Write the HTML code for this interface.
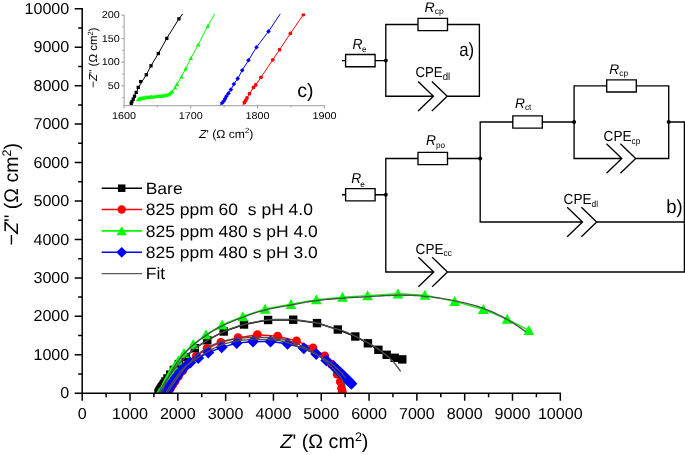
<!DOCTYPE html>
<html lang="en"><head><meta charset="utf-8"><title>Nyquist plot</title>
<style>html,body{margin:0;padding:0;background:#fff}body{width:685px;height:455px;overflow:hidden}svg{display:block}</style>
</head><body>
<svg width="685" height="455" viewBox="0 0 685 455" font-family="'Liberation Sans', Arial, sans-serif" fill="#000" text-rendering="geometricPrecision">
<rect width="685" height="455" fill="#fff"/>
<defs><clipPath id="cm"><rect x="82.2" y="8.8" width="486.1" height="385"/></clipPath>
<clipPath id="ci"><rect x="124.1" y="13.61" width="201.29" height="92.09"/></clipPath></defs>
<g clip-path="url(#cm)">
<g fill="#000" stroke="none">
<polyline points="158.62,393.2 158.88,392.7 159.16,392.17 159.44,391.64 159.72,391.11 160,390.58 160.31,390.02 160.71,389.3 161.22,388.38 161.89,387.22 162.77,385.73 163.92,383.84 165.44,381.44 167.46,378.42 170.16,374.62 173.82,369.89 178.81,364.07 185.67,357.03 194.8,348.3 207.3,340.3 223.7,331.5 244,324.5 268.1,320 293.2,319.7 317,323.1 337.8,329.5 355.3,336.5 367.9,343.3 378.4,349.8 386.7,354.8 394.7,357.8 402.3,359.4" fill="none" stroke="#000" stroke-width="1.4"/>
<rect x="154.42" y="389" width="8.4" height="8.4"/><rect x="154.68" y="388.5" width="8.4" height="8.4"/><rect x="154.96" y="387.97" width="8.4" height="8.4"/><rect x="155.24" y="387.44" width="8.4" height="8.4"/><rect x="155.52" y="386.91" width="8.4" height="8.4"/><rect x="155.8" y="386.38" width="8.4" height="8.4"/><rect x="156.11" y="385.82" width="8.4" height="8.4"/><rect x="156.51" y="385.1" width="8.4" height="8.4"/><rect x="157.02" y="384.18" width="8.4" height="8.4"/><rect x="157.69" y="383.02" width="8.4" height="8.4"/><rect x="158.57" y="381.53" width="8.4" height="8.4"/><rect x="159.72" y="379.64" width="8.4" height="8.4"/><rect x="161.24" y="377.24" width="8.4" height="8.4"/><rect x="163.26" y="374.22" width="8.4" height="8.4"/><rect x="165.96" y="370.42" width="8.4" height="8.4"/><rect x="169.62" y="365.69" width="8.4" height="8.4"/><rect x="174.61" y="359.87" width="8.4" height="8.4"/><rect x="181.47" y="352.83" width="8.4" height="8.4"/><rect x="190.6" y="344.1" width="8.4" height="8.4"/><rect x="203.1" y="336.1" width="8.4" height="8.4"/><rect x="219.5" y="327.3" width="8.4" height="8.4"/><rect x="239.8" y="320.3" width="8.4" height="8.4"/><rect x="263.9" y="315.8" width="8.4" height="8.4"/><rect x="289" y="315.5" width="8.4" height="8.4"/><rect x="312.8" y="318.9" width="8.4" height="8.4"/><rect x="333.6" y="325.3" width="8.4" height="8.4"/><rect x="351.1" y="332.3" width="8.4" height="8.4"/><rect x="363.7" y="339.1" width="8.4" height="8.4"/><rect x="374.2" y="345.6" width="8.4" height="8.4"/><rect x="382.5" y="350.6" width="8.4" height="8.4"/><rect x="390.5" y="353.6" width="8.4" height="8.4"/><rect x="398.1" y="355.2" width="8.4" height="8.4"/>
</g>
<g fill="#f00" stroke="none">
<polyline points="167.2,393.2 167.89,392.14 169.15,390.21 170.74,387.8 172.71,384.79 175.21,381.04 178.42,376.41 182.64,370.78 188.27,364.02 196.2,356.4 207.1,348.3 220.9,342.3 238.1,337.7 257.4,334.7 277.6,336.2 296.5,340.9 313,347.9 324.7,355.8 331.5,364.1 337.2,374.2 340.3,381.7 341.5,388 342.3,391.7" fill="none" stroke="#f00" stroke-width="1.4"/>
<circle cx="167.2" cy="393.2" r="4.4"/><circle cx="167.89" cy="392.14" r="4.4"/><circle cx="169.15" cy="390.21" r="4.4"/><circle cx="170.74" cy="387.8" r="4.4"/><circle cx="172.71" cy="384.79" r="4.4"/><circle cx="175.21" cy="381.04" r="4.4"/><circle cx="178.42" cy="376.41" r="4.4"/><circle cx="182.64" cy="370.78" r="4.4"/><circle cx="188.27" cy="364.02" r="4.4"/><circle cx="196.2" cy="356.4" r="4.4"/><circle cx="207.1" cy="348.3" r="4.4"/><circle cx="220.9" cy="342.3" r="4.4"/><circle cx="238.1" cy="337.7" r="4.4"/><circle cx="257.4" cy="334.7" r="4.4"/><circle cx="277.6" cy="336.2" r="4.4"/><circle cx="296.5" cy="340.9" r="4.4"/><circle cx="313" cy="347.9" r="4.4"/><circle cx="324.7" cy="355.8" r="4.4"/><circle cx="331.5" cy="364.1" r="4.4"/><circle cx="337.2" cy="374.2" r="4.4"/><circle cx="340.3" cy="381.7" r="4.4"/><circle cx="341.5" cy="388" r="4.4"/><circle cx="342.3" cy="391.7" r="4.4"/>
</g>
<g fill="#0f0" stroke="none">
<polyline points="159.4,392.8 159.71,392.71 160.29,392.55 160.87,392.39 161.44,392.2 161.98,391.95 162.35,391.49 162.55,390.93 162.76,390.36 162.94,389.79 163.14,389.23 163.35,388.66 163.56,388.1 163.77,387.54 163.99,386.98 164.27,386.26 164.63,385.35 165.11,384.18 165.75,382.69 166.6,380.79 167.74,378.38 169.28,375.33 171.38,371.49 174.3,366.69 178.3,360.7 184,353.3 193.3,344.4 206,334.6 222.2,324.9 242.8,316.5 265.1,309 291,304.2 316.4,299.6 342.5,297.1 367.6,295.6 398,293.8 424.9,295.1 454.7,301.4 483.3,309.4 507.2,319 528.8,330.3" fill="none" stroke="#0f0" stroke-width="1.4"/>
<path d="M159.4 387.5L164.8 397.5L154 397.5Z"/><path d="M159.71 387.41L165.11 397.41L154.31 397.41Z"/><path d="M160.29 387.25L165.69 397.25L154.89 397.25Z"/><path d="M160.87 387.09L166.27 397.09L155.47 397.09Z"/><path d="M161.44 386.9L166.84 396.9L156.04 396.9Z"/><path d="M161.98 386.65L167.38 396.65L156.58 396.65Z"/><path d="M162.35 386.19L167.75 396.19L156.95 396.19Z"/><path d="M162.55 385.63L167.95 395.63L157.15 395.63Z"/><path d="M162.76 385.06L168.16 395.06L157.36 395.06Z"/><path d="M162.94 384.49L168.34 394.49L157.54 394.49Z"/><path d="M163.14 383.93L168.54 393.93L157.74 393.93Z"/><path d="M163.35 383.36L168.75 393.36L157.95 393.36Z"/><path d="M163.56 382.8L168.96 392.8L158.16 392.8Z"/><path d="M163.77 382.24L169.17 392.24L158.37 392.24Z"/><path d="M163.99 381.68L169.39 391.68L158.59 391.68Z"/><path d="M164.27 380.96L169.67 390.96L158.87 390.96Z"/><path d="M164.63 380.05L170.03 390.05L159.23 390.05Z"/><path d="M165.11 378.88L170.51 388.88L159.71 388.88Z"/><path d="M165.75 377.39L171.15 387.39L160.35 387.39Z"/><path d="M166.6 375.49L172 385.49L161.2 385.49Z"/><path d="M167.74 373.08L173.14 383.08L162.34 383.08Z"/><path d="M169.28 370.03L174.68 380.03L163.88 380.03Z"/><path d="M171.38 366.19L176.78 376.19L165.98 376.19Z"/><path d="M174.3 361.39L179.7 371.39L168.9 371.39Z"/><path d="M178.3 355.4L183.7 365.4L172.9 365.4Z"/><path d="M184 348L189.4 358L178.6 358Z"/><path d="M193.3 339.1L198.7 349.1L187.9 349.1Z"/><path d="M206 329.3L211.4 339.3L200.6 339.3Z"/><path d="M222.2 319.6L227.6 329.6L216.8 329.6Z"/><path d="M242.8 311.2L248.2 321.2L237.4 321.2Z"/><path d="M265.1 303.7L270.5 313.7L259.7 313.7Z"/><path d="M291 298.9L296.4 308.9L285.6 308.9Z"/><path d="M316.4 294.3L321.8 304.3L311 304.3Z"/><path d="M342.5 291.8L347.9 301.8L337.1 301.8Z"/><path d="M367.6 290.3L373 300.3L362.2 300.3Z"/><path d="M398 288.5L403.4 298.5L392.6 298.5Z"/><path d="M424.9 289.8L430.3 299.8L419.5 299.8Z"/><path d="M454.7 296.1L460.1 306.1L449.3 306.1Z"/><path d="M483.3 304.1L488.7 314.1L477.9 314.1Z"/><path d="M507.2 313.7L512.6 323.7L501.8 323.7Z"/><path d="M528.8 325L534.2 335L523.4 335Z"/>
</g>
<g fill="#00f" stroke="none">
<polyline points="165.5,393.2 165.8,392.74 166.13,392.24 166.46,391.74 166.78,391.24 167.11,390.74 167.44,390.23 167.77,389.73 168.1,389.23 168.43,388.73 168.77,388.2 169.21,387.54 169.75,386.71 170.43,385.68 171.27,384.39 172.34,382.78 173.69,380.78 175.4,378.3 177.61,375.25 180.54,371.56 184.54,367.25 190.23,362.58 198.2,358 208.3,352.6 221.7,347.3 236.7,343.1 253,341.5 270.5,341.5 287.5,343.8 303.8,348.2 316.2,354 326.4,360.6 333.6,366.3 337.1,369.7 340.1,372.6 342.7,375.1 344.9,377.3 346.9,379.3 348.6,381 350.1,382.5 351.4,383.8" fill="none" stroke="#00f" stroke-width="1.4"/>
<path d="M165.5 387.2L171.5 393.2L165.5 399.2L159.5 393.2Z"/><path d="M165.8 386.74L171.8 392.74L165.8 398.74L159.8 392.74Z"/><path d="M166.13 386.24L172.13 392.24L166.13 398.24L160.13 392.24Z"/><path d="M166.46 385.74L172.46 391.74L166.46 397.74L160.46 391.74Z"/><path d="M166.78 385.24L172.78 391.24L166.78 397.24L160.78 391.24Z"/><path d="M167.11 384.74L173.11 390.74L167.11 396.74L161.11 390.74Z"/><path d="M167.44 384.23L173.44 390.23L167.44 396.23L161.44 390.23Z"/><path d="M167.77 383.73L173.77 389.73L167.77 395.73L161.77 389.73Z"/><path d="M168.1 383.23L174.1 389.23L168.1 395.23L162.1 389.23Z"/><path d="M168.43 382.73L174.43 388.73L168.43 394.73L162.43 388.73Z"/><path d="M168.77 382.2L174.77 388.2L168.77 394.2L162.77 388.2Z"/><path d="M169.21 381.54L175.21 387.54L169.21 393.54L163.21 387.54Z"/><path d="M169.75 380.71L175.75 386.71L169.75 392.71L163.75 386.71Z"/><path d="M170.43 379.68L176.43 385.68L170.43 391.68L164.43 385.68Z"/><path d="M171.27 378.39L177.27 384.39L171.27 390.39L165.27 384.39Z"/><path d="M172.34 376.78L178.34 382.78L172.34 388.78L166.34 382.78Z"/><path d="M173.69 374.78L179.69 380.78L173.69 386.78L167.69 380.78Z"/><path d="M175.4 372.3L181.4 378.3L175.4 384.3L169.4 378.3Z"/><path d="M177.61 369.25L183.61 375.25L177.61 381.25L171.61 375.25Z"/><path d="M180.54 365.56L186.54 371.56L180.54 377.56L174.54 371.56Z"/><path d="M184.54 361.25L190.54 367.25L184.54 373.25L178.54 367.25Z"/><path d="M190.23 356.58L196.23 362.58L190.23 368.58L184.23 362.58Z"/><path d="M198.2 352L204.2 358L198.2 364L192.2 358Z"/><path d="M208.3 346.6L214.3 352.6L208.3 358.6L202.3 352.6Z"/><path d="M221.7 341.3L227.7 347.3L221.7 353.3L215.7 347.3Z"/><path d="M236.7 337.1L242.7 343.1L236.7 349.1L230.7 343.1Z"/><path d="M253 335.5L259 341.5L253 347.5L247 341.5Z"/><path d="M270.5 335.5L276.5 341.5L270.5 347.5L264.5 341.5Z"/><path d="M287.5 337.8L293.5 343.8L287.5 349.8L281.5 343.8Z"/><path d="M303.8 342.2L309.8 348.2L303.8 354.2L297.8 348.2Z"/><path d="M316.2 348L322.2 354L316.2 360L310.2 354Z"/><path d="M326.4 354.6L332.4 360.6L326.4 366.6L320.4 360.6Z"/><path d="M333.6 360.3L339.6 366.3L333.6 372.3L327.6 366.3Z"/><path d="M337.1 363.7L343.1 369.7L337.1 375.7L331.1 369.7Z"/><path d="M340.1 366.6L346.1 372.6L340.1 378.6L334.1 372.6Z"/><path d="M342.7 369.1L348.7 375.1L342.7 381.1L336.7 375.1Z"/><path d="M344.9 371.3L350.9 377.3L344.9 383.3L338.9 377.3Z"/><path d="M346.9 373.3L352.9 379.3L346.9 385.3L340.9 379.3Z"/><path d="M348.6 375L354.6 381L348.6 387L342.6 381Z"/><path d="M350.1 376.5L356.1 382.5L350.1 388.5L344.1 382.5Z"/><path d="M351.4 377.8L357.4 383.8L351.4 389.8L345.4 383.8Z"/>
</g>
<polyline points="158.62,393.2 158.82,392.82 159.09,392.33 159.4,391.76 159.74,391.11 160.12,390.41 160.52,389.68 160.92,388.94 161.33,388.21 161.73,387.5 162.1,386.85 162.47,386.22 162.84,385.6 163.22,384.98 163.59,384.36 163.97,383.75 164.36,383.13 164.74,382.52 165.14,381.91 165.53,381.3 165.93,380.69 166.33,380.09 166.73,379.49 167.13,378.89 167.54,378.29 167.96,377.69 168.37,377.1 168.79,376.51 169.21,375.92 169.64,375.33 170.07,374.75 170.5,374.17 170.93,373.59 171.37,373.01 171.81,372.43 172.26,371.86 172.7,371.29 173.15,370.72 173.61,370.16 174.06,369.59 174.52,369.03 174.98,368.47 175.45,367.92 175.91,367.36 176.39,366.81 176.86,366.26 177.34,365.72 177.82,365.17 178.3,364.63 178.78,364.1 179.27,363.56 179.76,363.03 180.25,362.5 180.75,361.97 181.25,361.44 181.75,360.92 182.26,360.4 182.77,359.88 183.28,359.37 183.79,358.86 184.3,358.35 184.82,357.84 185.35,357.34 185.88,356.85 186.41,356.36 186.95,355.87 187.48,355.38 188.02,354.89 188.55,354.4 189.08,353.91 189.61,353.41 190.1,352.93 190.54,352.46 190.94,352.01 191.34,351.55 191.75,351.09 192.2,350.62 192.71,350.12 193.3,349.59 193.99,349.02 194.8,348.4 195.74,347.73 196.77,347.02 197.89,346.27 199.09,345.49 200.35,344.68 201.67,343.86 203.03,343.02 204.43,342.18 205.86,341.34 207.3,340.5 208.76,339.66 210.27,338.79 211.81,337.9 213.39,337.01 215.01,336.11 216.67,335.22 218.37,334.33 220.11,333.46 221.88,332.62 223.7,331.8 225.55,331 227.45,330.21 229.38,329.42 231.36,328.64 233.37,327.89 235.42,327.15 237.51,326.44 239.63,325.76 241.8,325.11 244,324.5 246.25,323.92 248.56,323.35 250.92,322.81 253.32,322.3 255.75,321.81 258.21,321.36 260.68,320.95 263.16,320.59 265.63,320.27 268.1,320 270.58,319.78 273.08,319.61 275.6,319.49 278.13,319.4 280.67,319.36 283.21,319.36 285.73,319.39 288.25,319.46 290.74,319.57 293.2,319.7 295.68,319.88 298.22,320.12 300.78,320.4 303.33,320.72 305.86,321.07 308.32,321.45 310.69,321.84 312.95,322.23 315.06,322.62 317,323 318.73,323.38 320.27,323.77 321.65,324.16 322.92,324.57 324.09,324.99 325.22,325.41 326.34,325.83 327.49,326.25 328.7,326.68 330,327.1 331.38,327.51 332.78,327.91 334.19,328.31 335.63,328.7 337.07,329.1 338.52,329.51 339.97,329.94 341.42,330.4 342.86,330.88 344.3,331.4 345.73,331.96 347.16,332.54 348.59,333.15 350.02,333.78 351.45,334.43 352.88,335.1 354.31,335.79 355.74,336.48 357.17,337.19 358.6,337.9 360.04,338.63 361.51,339.38 362.98,340.14 364.46,340.92 365.93,341.71 367.39,342.51 368.82,343.31 370.23,344.11 371.59,344.91 372.9,345.7 374.17,346.49 375.41,347.28 376.62,348.07 377.8,348.86 378.96,349.65 380.08,350.44 381.18,351.23 382.25,352.02 383.29,352.81 384.3,353.6 385.28,354.37 386.21,355.13 387.11,355.88 387.98,356.62 388.82,357.37 389.65,358.13 390.47,358.9 391.28,359.7 392.09,360.53 392.9,361.4 393.75,362.36 394.64,363.42 395.54,364.55 396.45,365.72 397.34,366.89 398.18,368.01 398.96,369.07 399.65,370 400.24,370.8 400.7,371.4" fill="none" stroke="#4d4d4d" stroke-width="1.35" stroke-linejoin="round"/>
<polyline points="167.2,393.2 167.36,392.95 167.57,392.63 167.82,392.26 168.09,391.84 168.39,391.38 168.7,390.9 169.02,390.42 169.34,389.93 169.66,389.45 169.95,388.99 170.25,388.55 170.54,388.1 170.84,387.64 171.15,387.17 171.45,386.71 171.76,386.24 172.06,385.78 172.37,385.31 172.67,384.86 172.96,384.41 173.26,383.97 173.55,383.53 173.84,383.09 174.13,382.66 174.41,382.23 174.7,381.8 174.98,381.38 175.27,380.96 175.55,380.55 175.82,380.14 176.1,379.74 176.37,379.34 176.64,378.94 176.91,378.55 177.18,378.17 177.45,377.79 177.71,377.41 177.98,377.04 178.24,376.67 178.5,376.3 178.76,375.94 179.01,375.59 179.26,375.25 179.5,374.91 179.75,374.57 180,374.24 180.25,373.9 180.51,373.55 180.78,373.19 181.06,372.83 181.34,372.45 181.64,372.06 181.94,371.67 182.25,371.27 182.56,370.86 182.87,370.46 183.2,370.05 183.52,369.64 183.85,369.23 184.17,368.82 184.51,368.41 184.85,368 185.19,367.58 185.54,367.16 185.89,366.74 186.24,366.32 186.59,365.91 186.95,365.5 187.3,365.09 187.65,364.7 188,364.31 188.35,363.93 188.7,363.56 189.04,363.19 189.39,362.83 189.74,362.47 190.09,362.1 190.45,361.74 190.82,361.37 191.2,361 191.6,360.61 192.05,360.2 192.51,359.78 192.98,359.36 193.46,358.93 193.91,358.53 194.33,358.14 194.72,357.79 195.04,357.48 195.29,357.22 195.42,357.04 195.41,356.97 195.3,356.96 195.13,357 194.95,357.04 194.81,357.06 194.75,357.03 194.82,356.91 195.05,356.68 195.5,356.3 196.16,355.76 196.99,355.08 197.96,354.28 199.05,353.4 200.24,352.47 201.49,351.51 202.79,350.55 204.1,349.63 205.42,348.77 206.7,348 207.97,347.3 209.26,346.61 210.58,345.96 211.93,345.32 213.31,344.71 214.71,344.12 216.15,343.55 217.63,343.01 219.15,342.49 220.7,342 222.3,341.53 223.94,341.09 225.62,340.66 227.33,340.27 229.08,339.89 230.86,339.54 232.66,339.22 234.49,338.92 236.34,338.65 238.2,338.4 240.09,338.18 242.03,337.98 244,337.82 245.99,337.67 248.01,337.56 250.03,337.46 252.06,337.39 254.09,337.34 256.1,337.31 258.1,337.3 260.12,337.31 262.19,337.35 264.29,337.41 266.4,337.5 268.49,337.61 270.54,337.73 272.53,337.88 274.43,338.04 276.23,338.21 277.9,338.4 279.42,338.6 280.79,338.81 282.05,339.03 283.22,339.26 284.34,339.52 285.42,339.8 286.5,340.1 287.61,340.43 288.76,340.8 290,341.2 291.3,341.64 292.64,342.12 294.01,342.63 295.39,343.17 296.78,343.74 298.17,344.32 299.56,344.93 300.93,345.55 302.28,346.17 303.6,346.8 304.89,347.44 306.18,348.08 307.45,348.74 308.71,349.41 309.96,350.1 311.2,350.8 312.42,351.52 313.63,352.26 314.82,353.02 316,353.8 317.17,354.61 318.34,355.46 319.51,356.34 320.66,357.24 321.79,358.16 322.9,359.07 323.99,359.98 325.03,360.88 326.04,361.76 327,362.6 327.91,363.42 328.79,364.23 329.62,365.03 330.42,365.81 331.19,366.59 331.94,367.35 332.66,368.11 333.35,368.85 334.03,369.58 334.7,370.3 335.35,371.01 335.98,371.71 336.58,372.4 337.16,373.07 337.73,373.74 338.26,374.39 338.78,375.04 339.28,375.67 339.75,376.29 340.2,376.9 340.63,377.5 341.03,378.1 341.41,378.68 341.76,379.26 342.09,379.82 342.41,380.38 342.7,380.91 342.98,381.43 343.25,381.92 343.5,382.4 343.74,382.87 343.95,383.33 344.16,383.78 344.34,384.22 344.51,384.64 344.66,385.04 344.79,385.39 344.91,385.71 345.01,385.98 345.1,386.2" fill="none" stroke="#4d4d4d" stroke-width="1.35" stroke-linejoin="round"/>
<polyline points="159.4,392.8 159.59,392.7 159.85,392.59 160.16,392.46 160.5,392.32 160.87,392.15 161.24,391.97 161.6,391.76 161.95,391.53 162.26,391.28 162.52,391 162.73,390.69 162.91,390.34 163.07,389.95 163.22,389.55 163.35,389.12 163.47,388.69 163.59,388.25 163.71,387.81 163.84,387.39 163.99,386.98 164.14,386.58 164.3,386.18 164.46,385.78 164.62,385.38 164.78,384.99 164.94,384.59 165.11,384.19 165.27,383.8 165.44,383.4 165.61,383.01 165.78,382.62 165.95,382.23 166.13,381.83 166.3,381.44 166.48,381.05 166.66,380.66 166.84,380.27 167.02,379.88 167.2,379.5 167.38,379.11 167.57,378.72 167.76,378.34 167.94,377.95 168.13,377.57 168.32,377.18 168.52,376.8 168.71,376.42 168.91,376.04 169.1,375.66 169.3,375.28 169.5,374.9 169.7,374.52 169.91,374.14 170.11,373.77 170.32,373.39 170.52,373.02 170.73,372.64 170.94,372.27 171.15,371.9 171.36,371.52 171.58,371.15 171.79,370.78 172.01,370.41 172.23,370.04 172.45,369.68 172.67,369.31 172.89,368.94 173.12,368.58 173.34,368.21 173.57,367.85 173.8,367.48 174.03,367.12 174.26,366.76 174.49,366.39 174.73,366.03 174.96,365.67 175.2,365.31 175.44,364.96 175.67,364.61 175.91,364.26 176.13,363.94 176.33,363.65 176.52,363.38 176.7,363.12 176.89,362.86 177.1,362.57 177.34,362.26 177.61,361.9 177.93,361.48 178.3,361 178.72,360.45 179.17,359.84 179.65,359.18 180.17,358.48 180.72,357.75 181.3,356.98 181.92,356.2 182.58,355.41 183.27,354.6 184,353.8 184.77,352.99 185.58,352.16 186.42,351.3 187.3,350.43 188.21,349.55 189.16,348.65 190.15,347.75 191.16,346.84 192.22,345.92 193.3,345 194.42,344.07 195.57,343.13 196.75,342.18 197.97,341.22 199.22,340.25 200.5,339.28 201.83,338.31 203.18,337.33 204.57,336.36 206,335.4 207.46,334.44 208.95,333.46 210.46,332.49 212.02,331.51 213.61,330.53 215.24,329.56 216.91,328.6 218.62,327.65 220.39,326.72 222.2,325.8 224.07,324.9 226.01,324.01 228,323.13 230.04,322.26 232.12,321.41 234.23,320.56 236.36,319.73 238.5,318.91 240.65,318.1 242.8,317.3 244.94,316.51 247.09,315.73 249.25,314.95 251.42,314.18 253.62,313.43 255.84,312.7 258.09,311.98 260.38,311.29 262.72,310.63 265.1,310 267.55,309.4 270.06,308.84 272.62,308.31 275.22,307.81 277.86,307.32 280.5,306.85 283.15,306.38 285.79,305.92 288.41,305.47 291,305 293.56,304.53 296.1,304.05 298.63,303.57 301.16,303.1 303.69,302.64 306.21,302.19 308.74,301.75 311.28,301.34 313.83,300.96 316.4,300.6 318.99,300.27 321.59,299.98 324.21,299.7 326.84,299.45 329.47,299.22 332.1,299 334.72,298.79 337.33,298.59 339.93,298.39 342.5,298.2 345.03,298.01 347.5,297.84 349.94,297.68 352.36,297.54 354.78,297.39 357.23,297.26 359.71,297.12 362.26,296.99 364.88,296.85 367.6,296.7 370.44,296.54 373.4,296.36 376.44,296.17 379.55,295.98 382.69,295.79 385.84,295.61 388.97,295.46 392.06,295.33 395.08,295.24 398,295.2 400.82,295.19 403.56,295.2 406.24,295.23 408.87,295.29 411.49,295.38 414.1,295.49 416.73,295.64 419.39,295.82 422.11,296.04 424.9,296.3 427.77,296.6 430.69,296.93 433.66,297.31 436.67,297.71 439.69,298.15 442.73,298.62 445.76,299.12 448.77,299.65 451.76,300.21 454.7,300.8 457.63,301.41 460.57,302.05 463.52,302.71 466.45,303.41 469.37,304.13 472.26,304.89 475.1,305.68 477.9,306.52 480.64,307.39 483.3,308.3 485.9,309.27 488.47,310.29 490.98,311.36 493.45,312.47 495.88,313.61 498.25,314.78 500.57,315.96 502.83,317.14 505.05,318.33 507.2,319.5 509.36,320.73 511.56,322.06 513.76,323.44 515.91,324.86 517.99,326.25 519.95,327.59 521.75,328.83 523.36,329.94 524.72,330.88 525.8,331.6" fill="none" stroke="#4d4d4d" stroke-width="1.35" stroke-linejoin="round"/>
<polyline points="165.5,393.2 165.66,392.95 165.87,392.63 166.12,392.26 166.39,391.84 166.69,391.38 167,390.9 167.32,390.41 167.64,389.93 167.96,389.45 168.25,388.99 168.54,388.55 168.84,388.1 169.14,387.64 169.44,387.18 169.75,386.71 170.05,386.25 170.36,385.78 170.66,385.32 170.96,384.87 171.26,384.42 171.55,383.98 171.84,383.53 172.13,383.1 172.42,382.66 172.71,382.23 173,381.8 173.29,381.37 173.57,380.95 173.86,380.53 174.14,380.12 174.42,379.71 174.7,379.3 174.98,378.9 175.26,378.5 175.53,378.11 175.81,377.72 176.08,377.33 176.36,376.95 176.63,376.57 176.9,376.2 177.17,375.83 177.44,375.47 177.7,375.12 177.97,374.77 178.23,374.42 178.49,374.08 178.76,373.74 179.02,373.4 179.29,373.06 179.57,372.72 179.84,372.38 180.11,372.05 180.39,371.72 180.66,371.39 180.93,371.06 181.21,370.73 181.5,370.41 181.79,370.08 182.09,369.75 182.41,369.41 182.72,369.08 183.05,368.74 183.37,368.41 183.71,368.07 184.05,367.74 184.4,367.4 184.76,367.06 185.13,366.71 185.51,366.37 185.91,366.02 186.31,365.67 186.73,365.31 187.15,364.95 187.58,364.59 188.03,364.22 188.49,363.86 188.96,363.49 189.46,363.13 189.97,362.76 190.5,362.4 191.09,362.02 191.74,361.63 192.45,361.22 193.18,360.8 193.91,360.39 194.62,360 195.28,359.64 195.88,359.3 196.38,359.02 196.77,358.78 197,358.63 197.05,358.57 196.99,358.58 196.85,358.63 196.67,358.69 196.52,358.74 196.43,358.75 196.45,358.7 196.62,358.56 197,358.3 197.57,357.93 198.26,357.47 199.08,356.94 199.99,356.35 200.99,355.71 202.06,355.04 203.18,354.35 204.33,353.65 205.51,352.97 206.7,352.3 207.91,351.63 209.17,350.93 210.47,350.2 211.82,349.46 213.21,348.71 214.64,347.98 216.11,347.26 217.61,346.56 219.14,345.91 220.7,345.3 222.3,344.73 223.94,344.17 225.62,343.64 227.33,343.13 229.08,342.64 230.86,342.19 232.66,341.76 234.49,341.37 236.34,341.02 238.2,340.7 240.09,340.43 242.03,340.19 244,339.99 245.99,339.83 248.01,339.7 250.03,339.6 252.06,339.52 254.09,339.46 256.1,339.42 258.1,339.4 260.13,339.4 262.21,339.43 264.34,339.48 266.47,339.56 268.58,339.66 270.65,339.77 272.64,339.91 274.53,340.06 276.29,340.22 277.9,340.4 279.33,340.59 280.59,340.79 281.73,341.01 282.76,341.25 283.72,341.5 284.64,341.77 285.54,342.05 286.47,342.35 287.44,342.67 288.5,343 289.61,343.35 290.74,343.72 291.88,344.11 293.03,344.52 294.18,344.94 295.34,345.37 296.51,345.82 297.67,346.27 298.84,346.73 300,347.2 301.17,347.68 302.36,348.19 303.56,348.71 304.76,349.24 305.96,349.77 307.15,350.32 308.32,350.85 309.48,351.38 310.61,351.9 311.7,352.4 312.75,352.87 313.76,353.31 314.74,353.73 315.7,354.14 316.64,354.55 317.58,354.97 318.53,355.42 319.49,355.9 320.48,356.42 321.5,357 322.57,357.64 323.68,358.33 324.82,359.07 325.97,359.84 327.13,360.64 328.28,361.44 329.4,362.25 330.49,363.06 331.53,363.84 332.5,364.6 333.41,365.34 334.29,366.08 335.12,366.82 335.92,367.56 336.69,368.29 337.44,369.01 338.16,369.73 338.85,370.43 339.53,371.12 340.2,371.8 340.86,372.49 341.53,373.2 342.18,373.93 342.82,374.65 343.43,375.35 344,376.01 344.52,376.63 344.99,377.17 345.38,377.64 345.7,378" fill="none" stroke="#4d4d4d" stroke-width="1.35" stroke-linejoin="round"/>
</g>
<path d="M82.2 8.05V393.95M81.45 393.2H561.05M74.7 393.2H82.2M82.2 393.2V400.7M74.7 354.76H82.2M130.01 393.2V400.7M74.7 316.32H82.2M177.82 393.2V400.7M74.7 277.88H82.2M225.63 393.2V400.7M74.7 239.44H82.2M273.44 393.2V400.7M74.7 201H82.2M321.25 393.2V400.7M74.7 162.56H82.2M369.06 393.2V400.7M74.7 124.12H82.2M416.87 393.2V400.7M74.7 85.68H82.2M464.68 393.2V400.7M74.7 47.24H82.2M512.49 393.2V400.7M74.7 8.8H82.2M560.3 393.2V400.7M78.2 373.98H82.2M106.11 393.2V397.2M78.2 335.54H82.2M153.92 393.2V397.2M78.2 297.1H82.2M201.73 393.2V397.2M78.2 258.66H82.2M249.54 393.2V397.2M78.2 220.22H82.2M297.35 393.2V397.2M78.2 181.78H82.2M345.16 393.2V397.2M78.2 143.34H82.2M392.96 393.2V397.2M78.2 104.9H82.2M440.78 393.2V397.2M78.2 66.46H82.2M488.58 393.2V397.2M78.2 28.02H82.2M536.4 393.2V397.2" stroke="#000" stroke-width="1.5" fill="none"/>
<text transform="translate(69.3,398.3) scale(1.02,1)" font-size="15.8px" text-anchor="end">0</text>
<text transform="translate(69.3,359.86) scale(1.02,1)" font-size="15.8px" text-anchor="end">1000</text>
<text transform="translate(69.3,321.42) scale(1.02,1)" font-size="15.8px" text-anchor="end">2000</text>
<text transform="translate(69.3,282.98) scale(1.02,1)" font-size="15.8px" text-anchor="end">3000</text>
<text transform="translate(69.3,244.54) scale(1.02,1)" font-size="15.8px" text-anchor="end">4000</text>
<text transform="translate(69.3,206.1) scale(1.02,1)" font-size="15.8px" text-anchor="end">5000</text>
<text transform="translate(69.3,167.66) scale(1.02,1)" font-size="15.8px" text-anchor="end">6000</text>
<text transform="translate(69.3,129.22) scale(1.02,1)" font-size="15.8px" text-anchor="end">7000</text>
<text transform="translate(69.3,90.78) scale(1.02,1)" font-size="15.8px" text-anchor="end">8000</text>
<text transform="translate(69.3,52.34) scale(1.02,1)" font-size="15.8px" text-anchor="end">9000</text>
<text transform="translate(69.3,13.9) scale(1.02,1)" font-size="15.8px" text-anchor="end">10000</text>
<text transform="translate(82.2,418.6) scale(1.02,1)" font-size="15.8px" text-anchor="middle">0</text>
<text transform="translate(130.01,418.6) scale(1.02,1)" font-size="15.8px" text-anchor="middle">1000</text>
<text transform="translate(177.82,418.6) scale(1.02,1)" font-size="15.8px" text-anchor="middle">2000</text>
<text transform="translate(225.63,418.6) scale(1.02,1)" font-size="15.8px" text-anchor="middle">3000</text>
<text transform="translate(273.44,418.6) scale(1.02,1)" font-size="15.8px" text-anchor="middle">4000</text>
<text transform="translate(321.25,418.6) scale(1.02,1)" font-size="15.8px" text-anchor="middle">5000</text>
<text transform="translate(369.06,418.6) scale(1.02,1)" font-size="15.8px" text-anchor="middle">6000</text>
<text transform="translate(416.87,418.6) scale(1.02,1)" font-size="15.8px" text-anchor="middle">7000</text>
<text transform="translate(464.68,418.6) scale(1.02,1)" font-size="15.8px" text-anchor="middle">8000</text>
<text transform="translate(512.49,418.6) scale(1.02,1)" font-size="15.8px" text-anchor="middle">9000</text>
<text transform="translate(560.3,418.6) scale(1.02,1)" font-size="15.8px" text-anchor="middle">10000</text>
<text transform="translate(280.3,448.3)" font-size="19.8px"><tspan font-style="italic">Z</tspan>' (Ω cm<tspan font-size="12.5px" dy="-7.3">2</tspan><tspan dy="7.3">)</tspan></text>
<text transform="translate(18,245.5) rotate(-90) scale(0.99,1)" font-size="19.8px">−<tspan font-style="italic">Z</tspan>'' (Ω cm<tspan font-size="12.5px" dy="-7.3">2</tspan><tspan dy="7.3">)</tspan></text>
<path d="M101.7 188.2H142" stroke="#000" stroke-width="1.6"/>
<g fill="#000"><rect x="117.95" y="184.45" width="7.5" height="7.5"/></g>
<text transform="translate(145.7,194) scale(1.06,1)" font-size="16.5px" xml:space="preserve">Bare</text>
<path d="M101.7 209.5H142" stroke="#f00" stroke-width="1.6"/>
<g fill="#f00"><circle cx="121.7" cy="209.5" r="4.2"/></g>
<text transform="translate(145.7,215.3) scale(1.06,1)" font-size="16.5px" xml:space="preserve">825 ppm 60  s pH 4.0</text>
<path d="M101.7 230.9H142" stroke="#0f0" stroke-width="1.6"/>
<g fill="#0f0"><path d="M121.7 226.13L126.9 235.13L116.5 235.13Z"/></g>
<text transform="translate(145.7,236.7) scale(1.06,1)" font-size="16.5px" xml:space="preserve">825 ppm 480 s pH 4.0</text>
<path d="M101.7 252.3H142" stroke="#00f" stroke-width="1.6"/>
<g fill="#00f"><path d="M121.7 246.9L127.1 252.3L121.7 257.7L116.3 252.3Z"/></g>
<text transform="translate(145.7,258.1) scale(1.06,1)" font-size="16.5px" xml:space="preserve">825 ppm 480 s pH 3.0</text>
<path d="M101.7 273.7H142" stroke="#5a5a5a" stroke-width="1.3"/>
<text transform="translate(145.7,279.2) scale(1.06,1)" font-size="16.5px" xml:space="preserve">Fit</text>
<g clip-path="url(#ci)">
<g fill="#000" stroke="none">
<polyline points="182.7,13.8 178.9,18.8 166.8,38.4 158.3,53.5 151,65.8 146.3,74.8 140.7,83.6 138.2,88.4 136.2,92.4 134.5,96.2 133.2,99.2 131.9,101.7 130.4,105" fill="none" stroke="#000" stroke-width="1"/>
<rect x="177.25" y="17.15" width="3.3" height="3.3"/><rect x="165.15" y="36.75" width="3.3" height="3.3"/><rect x="156.65" y="51.85" width="3.3" height="3.3"/><rect x="149.35" y="64.15" width="3.3" height="3.3"/><rect x="144.65" y="73.15" width="3.3" height="3.3"/><rect x="139.05" y="79.95" width="3.3" height="3.3"/><rect x="136.55" y="85.75" width="3.3" height="3.3"/><rect x="134.55" y="90.75" width="3.3" height="3.3"/><rect x="132.85" y="94.55" width="3.3" height="3.3"/><rect x="131.55" y="97.55" width="3.3" height="3.3"/><rect x="130.25" y="100.05" width="3.3" height="3.3"/><rect x="129.55" y="101.75" width="3.3" height="3.3"/>
</g>
<g fill="#0f0" stroke="none">
<polyline points="138.2,99.4 138.8,99 139.5,98.7 140.3,98.5 141.1,98.3 141.9,98.2 142.9,97.9 144,97.7 145.3,97.4 146.7,97.2 148.2,97 149.8,96.9 151.4,96.7 153,96.6 155.1,96.4 157.2,96.2 158.8,96 160.4,95.8 162,95.7 163.5,95.6 164.9,95.4 166.2,95.1 167.8,94.6 169.3,93.9 170.7,92.8 172.2,91.3 175.2,87.6 177,84 181.5,76.6 185.7,68.5 190.9,58.2 198.2,44.7 207.8,25.9 214.8,13.8" fill="none" stroke="#0f0" stroke-width="1"/>
<path d="M138.2 97.28L140.4 101.28L136 101.28Z"/><path d="M138.8 96.88L141 100.88L136.6 100.88Z"/><path d="M139.5 96.58L141.7 100.58L137.3 100.58Z"/><path d="M140.3 96.38L142.5 100.38L138.1 100.38Z"/><path d="M141.1 96.18L143.3 100.18L138.9 100.18Z"/><path d="M141.9 96.08L144.1 100.08L139.7 100.08Z"/><path d="M142.9 95.78L145.1 99.78L140.7 99.78Z"/><path d="M144 95.58L146.2 99.58L141.8 99.58Z"/><path d="M145.3 95.28L147.5 99.28L143.1 99.28Z"/><path d="M146.7 95.08L148.9 99.08L144.5 99.08Z"/><path d="M148.2 94.88L150.4 98.88L146 98.88Z"/><path d="M149.8 94.78L152 98.78L147.6 98.78Z"/><path d="M151.4 94.58L153.6 98.58L149.2 98.58Z"/><path d="M153 94.48L155.2 98.48L150.8 98.48Z"/><path d="M155.1 94.28L157.3 98.28L152.9 98.28Z"/><path d="M157.2 94.08L159.4 98.08L155 98.08Z"/><path d="M158.8 93.88L161 97.88L156.6 97.88Z"/><path d="M160.4 93.68L162.6 97.68L158.2 97.68Z"/><path d="M162 93.58L164.2 97.58L159.8 97.58Z"/><path d="M163.5 93.48L165.7 97.48L161.3 97.48Z"/><path d="M164.9 93.28L167.1 97.28L162.7 97.28Z"/><path d="M166.2 92.98L168.4 96.98L164 96.98Z"/><path d="M167.8 92.48L170 96.48L165.6 96.48Z"/><path d="M169.3 91.78L171.5 95.78L167.1 95.78Z"/><path d="M170.7 90.68L172.9 94.68L168.5 94.68Z"/><path d="M172.2 89.18L174.4 93.18L170 93.18Z"/><path d="M175.2 85.48L177.4 89.48L173 89.48Z"/><path d="M177 81.88L179.2 85.88L174.8 85.88Z"/><path d="M181.5 74.48L183.7 78.48L179.3 78.48Z"/><path d="M185.7 66.38L187.9 70.38L183.5 70.38Z"/><path d="M190.9 56.08L193.1 60.08L188.7 60.08Z"/><path d="M198.2 42.58L200.4 46.58L196 46.58Z"/><path d="M207.8 23.78L210 27.78L205.6 27.78Z"/>
</g>
<g fill="#00f" stroke="none">
<polyline points="220.4,105 222.1,103 223.9,101 225.1,98.7 226.4,96.2 228.4,93.4 230.9,89.6 233.9,84.1 237.7,78.6 242.2,70.3 248.5,60.3 256.5,47.2 268.5,31.4 280.3,13.8" fill="none" stroke="#00f" stroke-width="1"/>
<path d="M222.1 100.7L224.4 103L222.1 105.3L219.8 103Z"/><path d="M223.9 98.7L226.2 101L223.9 103.3L221.6 101Z"/><path d="M225.1 96.4L227.4 98.7L225.1 101L222.8 98.7Z"/><path d="M226.4 93.9L228.7 96.2L226.4 98.5L224.1 96.2Z"/><path d="M228.4 91.1L230.7 93.4L228.4 95.7L226.1 93.4Z"/><path d="M230.9 87.3L233.2 89.6L230.9 91.9L228.6 89.6Z"/><path d="M233.9 81.8L236.2 84.1L233.9 86.4L231.6 84.1Z"/><path d="M237.7 76.3L240 78.6L237.7 80.9L235.4 78.6Z"/><path d="M242.2 68L244.5 70.3L242.2 72.6L239.9 70.3Z"/><path d="M248.5 58L250.8 60.3L248.5 62.6L246.2 60.3Z"/><path d="M256.5 44.9L258.8 47.2L256.5 49.5L254.2 47.2Z"/><path d="M268.5 29.1L270.8 31.4L268.5 33.7L266.2 31.4Z"/>
</g>
<g fill="#f00" stroke="none">
<polyline points="242.9,105 244.4,102.5 245.7,100.4 247,97.9 249.5,93.7 253.5,87.4 255.7,84.9 261,77.3 272.8,59.8 279.6,49.7 290.4,33.4 303.4,14.6" fill="none" stroke="#f00" stroke-width="1"/>
<circle cx="244.4" cy="102.5" r="1.9"/><circle cx="245.7" cy="100.4" r="1.9"/><circle cx="247" cy="97.9" r="1.9"/><circle cx="249.5" cy="93.7" r="1.9"/><circle cx="253.5" cy="87.4" r="1.9"/><circle cx="255.7" cy="84.9" r="1.9"/><circle cx="261" cy="77.3" r="1.9"/><circle cx="272.8" cy="59.8" r="1.9"/><circle cx="279.6" cy="49.7" r="1.9"/><circle cx="290.4" cy="33.4" r="1.9"/><circle cx="303.4" cy="14.6" r="1.9"/>
</g>
</g>
<path d="M124.1 14.71V106.1M123.7 105.7H324.79M121.3 85.8H124.1M121.3 62.23H124.1M121.3 38.67H124.1M121.3 15.11H124.1M122.5 97.58H124.1M122.5 74.02H124.1M122.5 50.45H124.1M122.5 26.89H124.1M123.9 105.7V108.5M190.73 105.7V108.5M257.56 105.7V108.5M324.39 105.7V108.5M157.31 105.7V107.3M224.15 105.7V107.3M290.98 105.7V107.3" stroke="#9c9c9c" stroke-width="1" fill="none"/>
<text transform="translate(119.7,89) scale(1.08,1)" font-size="10px" text-anchor="end">50</text>
<text transform="translate(119.7,65.44) scale(1.08,1)" font-size="10px" text-anchor="end">100</text>
<text transform="translate(119.7,41.87) scale(1.08,1)" font-size="10px" text-anchor="end">150</text>
<text transform="translate(119.7,18.31) scale(1.08,1)" font-size="10px" text-anchor="end">200</text>
<text transform="translate(123.9,118.7) scale(1.08,1)" font-size="10px" text-anchor="middle">1600</text>
<text transform="translate(190.73,118.7) scale(1.08,1)" font-size="10px" text-anchor="middle">1700</text>
<text transform="translate(257.56,118.7) scale(1.08,1)" font-size="10px" text-anchor="middle">1800</text>
<text transform="translate(324.39,118.7) scale(1.08,1)" font-size="10px" text-anchor="middle">1900</text>
<text transform="translate(199,137.6) scale(1.05,1)" font-size="11.6px"><tspan font-style="italic">Z</tspan>' (Ω cm<tspan font-size="7.5px" dy="-4.3">2</tspan><tspan dy="4.3">)</tspan></text>
<text transform="translate(97.3,87.7) rotate(-90) scale(0.99,1)" font-size="11.6px">−<tspan font-style="italic">Z</tspan>'' (Ω cm<tspan font-size="7.5px" dy="-4.3">2</tspan><tspan dy="4.3">)</tspan></text>
<text transform="translate(297.2,97)" font-size="19.5px">c)</text>
<path d="M345.6 54.5H375.1V66.7H345.6ZM342 60.6H345.6M375.1 60.6H385.8M418 24.5H385.8V96.2H433.4M447.2 96.2H479.4V24.5H447.5M418 18.4H447.5V30.6H418ZM418.1 81.4L433.4 96.2L418.1 111M431.9 81.4L447.2 96.2L431.9 111M345.6 188.6H375.1V200.8H345.6ZM342 194.7H345.6M375.1 194.7H385.8M418 158.5H385.8V272H433.7M447.5 272H684.4V122H668.7M418 152.4H447.5V164.6H418ZM447.5 158.5H480.2M512.8 122H480.2V222H582.5M596.7 222H684.4M512.8 115.9H542.3V128.1H512.8ZM542.3 122H574.1M606.7 85.9H574.1V158.5H621.8M635.7 158.5H668.7V85.9H636.3M606.7 79.8H636.3V92H606.7ZM606.5 143.7L621.8 158.5L606.5 173.3M620.4 143.7L635.7 158.5L620.4 173.3M567.2 207.2L582.5 222L567.2 236.8M581.4 207.2L596.7 222L581.4 236.8M418.4 257.2L433.7 272L418.4 286.8M432.2 257.2L447.5 272L432.2 286.8" stroke="#000" stroke-width="1.35" fill="none" stroke-linejoin="miter"/>
<g fill="#000"><circle cx="385.8" cy="60.6" r="2"/><circle cx="385.8" cy="194.7" r="2"/><circle cx="480.2" cy="158.5" r="2"/><circle cx="574.1" cy="122" r="2"/><circle cx="668.7" cy="122" r="2"/></g>
<text transform="translate(352.5,48.9) scale(0.95,1)" font-size="14.5px"><tspan font-style="italic">R</tspan><tspan font-size="8.5px" dy="3.3" dx="-0.5">e</tspan></text>
<text transform="translate(424.5,11.7)" font-size="14px"><tspan font-style="italic">R</tspan><tspan font-size="8.5px" dy="1.9">cp</tspan></text>
<text transform="translate(415.4,77.3) scale(0.92,1)" font-size="14.4px"><tspan>CPE</tspan><tspan font-size="10.5px" dy="3">dl</tspan></text>
<text transform="translate(351.2,183.3) scale(0.97,1)" font-size="14.2px"><tspan font-style="italic">R</tspan><tspan font-size="8.5px" dy="3.3" dx="-0.8">e</tspan></text>
<text transform="translate(426,145.2) scale(0.97,1)" font-size="14.2px"><tspan font-style="italic">R</tspan><tspan font-size="8.5px" dy="2.8">po</tspan></text>
<text transform="translate(515,107.6) scale(0.98,1)" font-size="14px"><tspan font-style="italic">R</tspan><tspan font-size="8.5px" dy="2.3">ct</tspan></text>
<text transform="translate(609.3,74) scale(0.98,1)" font-size="14px"><tspan font-style="italic">R</tspan><tspan font-size="8.5px" dy="2.3">cp</tspan></text>
<text transform="translate(603.6,141.2) scale(0.93,1)" font-size="14.6px"><tspan>CPE</tspan><tspan font-size="9px" dy="2.4">cp</tspan></text>
<text transform="translate(563.6,204.1) scale(0.93,1)" font-size="14.6px"><tspan>CPE</tspan><tspan font-size="9px" dy="2.4">dl</tspan></text>
<text transform="translate(415.6,253.7) scale(0.93,1)" font-size="14.6px"><tspan>CPE</tspan><tspan font-size="9px" dy="2.4">cc</tspan></text>
<text transform="translate(459.2,56) scale(0.88,1)" font-size="19px">a)</text>
<text transform="translate(666.3,213) scale(0.97,1)" font-size="19px">b)</text>
</svg>
</body></html>
